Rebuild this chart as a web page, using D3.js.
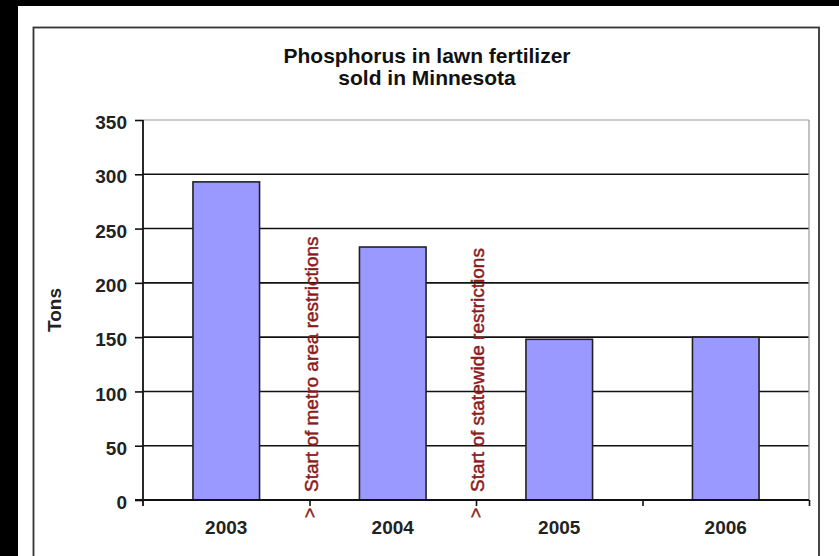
<html>
<head>
<script src="https://d3js.org/d3.v7.min.js"></script>
<style>
  body { margin: 0; background: #000; }
  text { font-family: "Liberation Sans", Arial, sans-serif; }
</style>
</head>
<body>
<svg width="839" height="556"></svg>
<script>
// data
var years = ["2003", "2004", "2005", "2006"];
var tons = [293, 233, 148, 150];
var yTicks = [0, 50, 100, 150, 200, 250, 300, 350];
var titleLines = ["Phosphorus in lawn fertilizer", "sold in Minnesota"];
var noteAfter = ["2003", "2004"];
var noteText = ["Start of metro area restrictions", "Start of statewide restrictions"];

var svg = d3.select("svg");

// page: black band, white sheet, chart frame
svg.append("rect").attr("width", 839).attr("height", 556).attr("fill", "#000");
svg.append("rect").attr("x", 18).attr("y", 6).attr("width", 821).attr("height", 550).attr("fill", "#fff");
svg.append("rect").attr("x", 33.5).attr("y", 27.5).attr("width", 785.5).attr("height", 600)
  .attr("fill", "none").attr("stroke", "#333").attr("stroke-width", 1.8);

var plotL = 143, plotR = 809, plotT = 120, plotB = 500;

var y = d3.scaleLinear().domain([0, 350]).range([plotB, plotT]);
var x = d3.scaleBand().domain(years).range([plotL, plotR]).paddingInner(0.6).paddingOuter(0.3);
var xb = d3.scaleLinear().domain([0, years.length]).range([plotL, plotR]);

// title
svg.append("g").selectAll("text").data(titleLines).enter().append("text")
  .attr("x", 427).attr("y", function(d, i) { return 63 + i * 22; })
  .attr("text-anchor", "middle")
  .style("font-weight", "bold").style("font-size", "21px").attr("fill", "#111")
  .text(function(d) { return d; });

// gridlines
svg.append("g").selectAll("line").data(yTicks.filter(function(d) { return d > 0; }))
  .enter().append("line")
  .attr("x1", plotL).attr("x2", plotR)
  .attr("y1", function(d) { return y(d); }).attr("y2", function(d) { return y(d); })
  .attr("stroke", function(d) { return d == 350 ? "#999" : "#111"; })
  .attr("stroke-width", function(d) { return d == 350 ? 1.2 : 1.6; });
svg.append("line").attr("x1", plotR).attr("x2", plotR).attr("y1", plotT).attr("y2", plotB)
  .attr("stroke", "#999").attr("stroke-width", 1.2);

// bars
svg.append("g").selectAll("rect").data(years).enter().append("rect")
  .attr("x", function(d) { return x(d); })
  .attr("y", function(d, i) { return y(tons[i]); })
  .attr("width", x.bandwidth())
  .attr("height", function(d, i) { return plotB - y(tons[i]); })
  .attr("fill", "#9999ff").attr("stroke", "#222").attr("stroke-width", 1.6);

// y axis
var yAxis = svg.append("g").attr("transform", "translate(" + plotL + ",0)")
  .call(d3.axisLeft(y).tickValues(yTicks).tickSize(8).tickSizeOuter(0).tickPadding(8));
yAxis.select(".domain").remove();
yAxis.selectAll(".tick line").attr("stroke", "#111").attr("stroke-width", 1.6);
yAxis.selectAll(".tick text")
  .attr("dy", "0.35em").attr("transform", "translate(0,2)")
  .style("font-size", "19px").style("font-weight", "bold").attr("fill", "#222");
svg.append("line").attr("x1", plotL).attr("x2", plotL).attr("y1", plotT).attr("y2", plotB + 6)
  .attr("stroke", "#111").attr("stroke-width", 1.8);

// x axis with ticks between categories
var xAxis = svg.append("g").attr("transform", "translate(0," + plotB + ")")
  .call(d3.axisBottom(xb).tickValues(d3.range(1, years.length + 1)).tickSize(6).tickSizeOuter(0).tickFormat(""));
xAxis.select(".domain").remove();
xAxis.selectAll(".tick line").attr("stroke", "#111").attr("stroke-width", 1.6);
svg.append("line").attr("x1", plotL - 8).attr("x2", plotR).attr("y1", plotB).attr("y2", plotB)
  .attr("stroke", "#111").attr("stroke-width", 1.8);

svg.append("g").selectAll("text").data(years).enter().append("text")
  .attr("x", function(d) { return x(d) + x.bandwidth() / 2; })
  .attr("y", 534)
  .attr("text-anchor", "middle")
  .style("font-size", "19px").style("font-weight", "bold").attr("fill", "#222")
  .text(function(d) { return d; });

// axis title
svg.append("text")
  .attr("transform", "translate(61,310) rotate(-90)")
  .attr("text-anchor", "middle")
  .style("font-size", "19px").style("font-weight", "bold").attr("fill", "#222")
  .text("Tons");

// restriction notes at category boundaries
noteAfter.forEach(function(yr, i) {
  var bx = xb(years.indexOf(yr) + 1);
  svg.append("text")
    .attr("transform", "translate(" + (bx + 8) + ",492) rotate(-90)")
    .style("font-size", "19px").attr("fill", "#8b1a1a")
    .attr("stroke", "#8b1a1a").attr("stroke-width", 0.5)
    .text(noteText[i]);
  svg.append("text")
    .attr("transform", "translate(" + (bx + 6) + ",513) rotate(-90)")
    .attr("text-anchor", "middle")
    .style("font-size", "18px").attr("fill", "#8b1a1a")
    .attr("stroke", "#8b1a1a").attr("stroke-width", 0.4)
    .text(">");
});
</script>
</body>
</html>
